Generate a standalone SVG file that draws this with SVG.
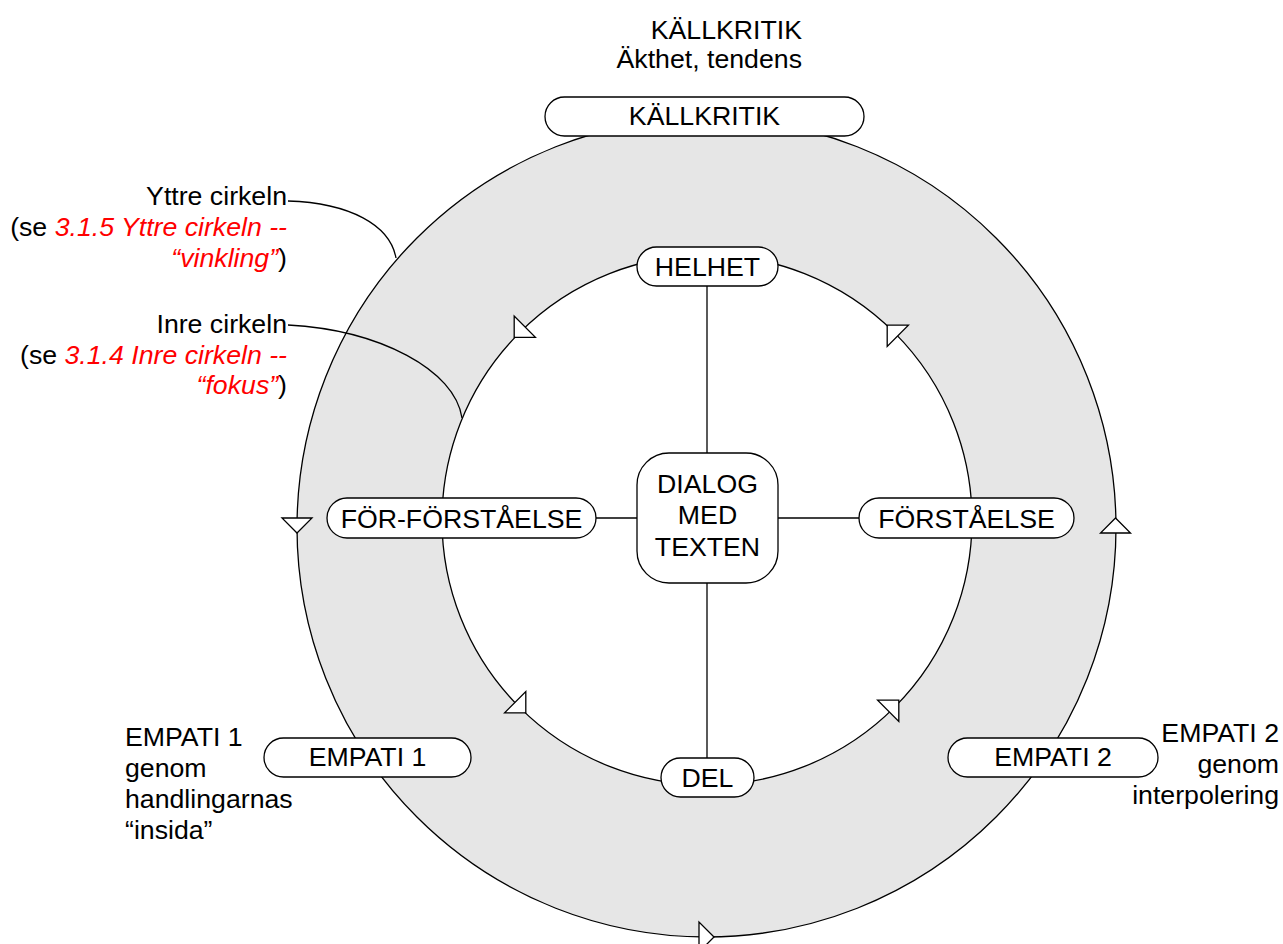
<svg xmlns="http://www.w3.org/2000/svg" xmlns:xlink="http://www.w3.org/1999/xlink" width="1283" height="944" viewBox="0 0 1283 944">
  <style>
    text { font-family: "Liberation Sans", Arial, Helvetica, sans-serif; font-size: 26.7px; fill: #000; }
    .mid { text-anchor: middle; }
    .end { text-anchor: end; }
    .ref { fill: #ff0000; font-style: italic; }
    .box { fill: #fff; stroke: #000; stroke-width: 1.3; }
    .line { fill: none; stroke: #000; stroke-width: 1.3; }
    .ring-outer { fill: #e6e6e6; stroke: #000; stroke-width: 1.3; }
    .ring-inner { fill: #fff; stroke: #000; stroke-width: 1.3; }
    .head { fill: #fff; stroke: #000; stroke-width: 1.3; stroke-linejoin: miter; }
  </style>
  <defs>
    <!-- open triangular arrowhead, pointing along +x, centred on the path -->
    <path id="tri" class="head" d="M7.5,0 L-7.5,-15 L-7.5,15 Z"/>
  </defs>

  <rect width="1283" height="944" fill="#fff"/>

  <!-- the two circles of the hermeneutic model -->
  <g id="rings">
    <circle class="ring-outer" cx="706.5" cy="527.5" r="409.5"/>
    <circle class="ring-inner" cx="707" cy="520" r="265"/>
    <!-- direction of travel on the outer circle -->
    <use xlink:href="#tri" transform="translate(297,525.5) rotate(90)"/>
    <use xlink:href="#tri" transform="translate(706.5,937) rotate(0)"/>
    <use xlink:href="#tri" transform="translate(1115.5,525.5) rotate(-90)"/>
    <!-- direction of travel on the inner circle -->
    <use xlink:href="#tri" transform="translate(519.5,332) rotate(135)"/>
    <use xlink:href="#tri" transform="translate(520.5,707.5) rotate(45)"/>
    <use xlink:href="#tri" transform="translate(893.5,705.5) rotate(-45)"/>
    <use xlink:href="#tri" transform="translate(892.5,330.5) rotate(-135)"/>
  </g>

  <g id="connectors">
    <!-- spokes from the centre -->
    <line class="line" x1="707" y1="286" x2="707" y2="453"/>
    <line class="line" x1="707" y1="583" x2="707" y2="758"/>
    <line class="line" x1="596" y1="518" x2="637" y2="518"/>
    <line class="line" x1="778" y1="518" x2="859" y2="518"/>
    <!-- callout leaders -->
    <path class="line" d="M288,201 C350,203 390,225 396,258"/>
    <path class="line" d="M288,325 C380,330 455,370 462,418"/>
  </g>

  <g id="node-kallkritik">
    <rect class="box" x="545" y="97" width="319" height="39" rx="19.5"/>
    <text class="mid" x="704.5" y="125">KÄLLKRITIK</text>
  </g>
  <g id="node-helhet">
    <rect class="box" x="637" y="247" width="141" height="39" rx="19.5"/>
    <text class="mid" x="707.5" y="276">HELHET</text>
  </g>
  <g id="node-forforstaelse">
    <rect class="box" x="327" y="498" width="269" height="40" rx="20"/>
    <text class="mid" x="461.5" y="528">FÖR-FÖRSTÅELSE</text>
  </g>
  <g id="node-forstaelse">
    <rect class="box" x="859" y="498" width="215" height="40" rx="20"/>
    <text class="mid" x="966.5" y="528">FÖRSTÅELSE</text>
  </g>
  <g id="node-dialog">
    <rect class="box" x="637" y="453" width="141" height="130" rx="32"/>
    <text class="mid" x="707.5" y="493">DIALOG</text>
    <text class="mid" x="707.5" y="524">MED</text>
    <text class="mid" x="707.5" y="556">TEXTEN</text>
  </g>
  <g id="node-del">
    <rect class="box" x="661" y="758" width="93" height="39" rx="19.5"/>
    <text class="mid" x="707.5" y="787">DEL</text>
  </g>
  <g id="node-empati1">
    <rect class="box" x="264" y="738" width="207" height="39" rx="19.5"/>
    <text class="mid" x="367.5" y="766">EMPATI 1</text>
  </g>
  <g id="node-empati2">
    <rect class="box" x="948" y="738" width="210" height="39" rx="19.5"/>
    <text class="mid" x="1053" y="766">EMPATI 2</text>
  </g>

  <!-- free-standing annotations -->
  <g id="label-kallkritik">
    <text class="end" x="802" y="39">KÄLLKRITIK</text>
    <text class="end" x="802" y="68">Äkthet, tendens</text>
  </g>
  <g id="label-yttre">
    <text class="end" x="287" y="205">Yttre cirkeln</text>
    <text class="end" x="287" y="236">(se <tspan class="ref">3.1.5 Yttre cirkeln --</tspan></text>
    <text class="end" x="287" y="267"><tspan class="ref">“vinkling”</tspan>)</text>
  </g>
  <g id="label-inre">
    <text class="end" x="287" y="333">Inre cirkeln</text>
    <text class="end" x="287" y="364">(se <tspan class="ref">3.1.4 Inre cirkeln --</tspan></text>
    <text class="end" x="287" y="394"><tspan class="ref">“fokus”</tspan>)</text>
  </g>
  <g id="label-empati1">
    <text x="125" y="746">EMPATI 1</text>
    <text x="125" y="777">genom</text>
    <text x="125" y="808">handlingarnas</text>
    <text x="125" y="839">“insida”</text>
  </g>
  <g id="label-empati2">
    <text class="end" x="1279" y="742">EMPATI 2</text>
    <text class="end" x="1279" y="773">genom</text>
    <text class="end" x="1279" y="804">interpolering</text>
  </g>
</svg>
